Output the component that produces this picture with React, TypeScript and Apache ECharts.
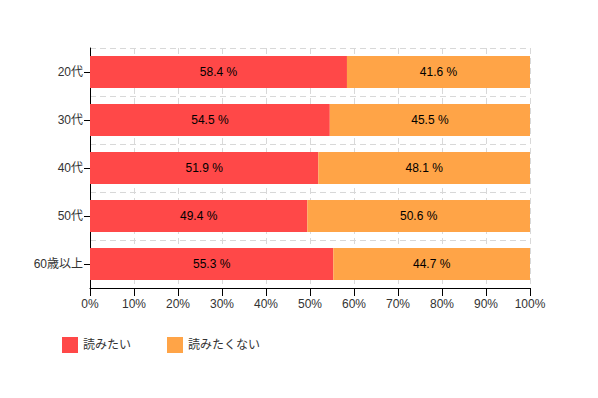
import React, { useEffect, useRef } from "react";
import * as echarts from "echarts";

const categories = ["20代", "30代", "40代", "50代", "60歳以上"];
const seriesNames = ["読みたい", "読みたくない"];
const wantValues = [58.4, 54.5, 51.9, 49.4, 55.3];
const notWantValues = [41.6, 45.5, 48.1, 50.6, 44.7];
const colors = ["#ff4848", "#ffa447"];

const FONT = "'Liberation Sans', 'Noto Sans CJK JP', sans-serif";

export default function App() {
  const ref = useRef<HTMLDivElement>(null);
  useEffect(() => {
    if (!ref.current) return;
    const chart = echarts.init(ref.current, undefined, { renderer: "svg" });
    const label = {
      show: true,
      position: "inside",
      color: "#000",
      fontSize: 12,
      fontFamily: FONT,
      formatter: (p: any) => `${p.value.toFixed(1)} %`,
    };
    chart.setOption({
      animation: false,
      textStyle: { fontFamily: FONT },
      grid: { left: 90, right: 68, top: 48, height: 240 },
      legend: {
        left: 62,
        top: 337,
        padding: 0,
        itemWidth: 16,
        itemHeight: 16,
        itemGap: 36,
        itemTextGap: 6,
        icon: "rect",
        textStyle: { fontSize: 12, color: "#333", fontFamily: FONT },
        data: seriesNames,
      },
      xAxis: {
        type: "value",
        min: 0,
        max: 100,
        interval: 10,
        axisLine: { show: true, lineStyle: { color: "#000" } },
        axisTick: { show: true, length: 8, lineStyle: { color: "#000" } },
        axisLabel: { formatter: "{value}%", color: "#333", fontSize: 12, margin: 10 },
        splitLine: { show: true, lineStyle: { color: "#d8d8d8", type: [6, 4] } },
      },
      yAxis: {
        type: "category",
        data: categories,
        inverse: true,
        axisLine: { show: true, lineStyle: { color: "#000" } },
        axisTick: { show: true, alignWithLabel: true, length: 6, lineStyle: { color: "#000" } },
        axisLabel: { color: "#333", fontSize: 12, margin: 7 },
        splitLine: { show: true, lineStyle: { color: "#d8d8d8", type: [6, 4] } },
      },
      series: [
        {
          name: seriesNames[0],
          type: "bar",
          stack: "total",
          data: wantValues,
          barWidth: 32,
          itemStyle: { color: colors[0] },
          label,
        },
        {
          name: seriesNames[1],
          type: "bar",
          stack: "total",
          data: notWantValues,
          barWidth: 32,
          itemStyle: { color: colors[1] },
          label,
        },
      ],
    });
    return () => chart.dispose();
  }, []);
  return <div ref={ref} style={{ width: 598, height: 398, margin: -8 }} />;
}
